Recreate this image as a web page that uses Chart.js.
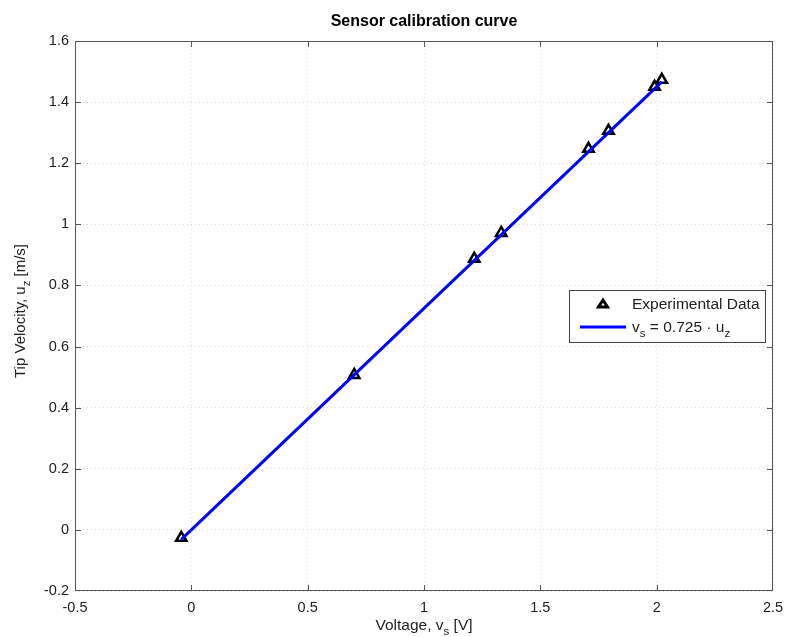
<!DOCTYPE html>
<html>
<head>
<meta charset="utf-8">
<script src="https://cdn.jsdelivr.net/npm/chart.js@4"></script>
<style>
  html, body { margin: 0; padding: 0; background: #fff; }
  #wrap { width: 786px; height: 637px; }
</style>
</head>
<body>
<div id="wrap"><canvas id="cal-chart" width="786" height="637"></canvas></div>
<script>
// measured points
const voltage = [-0.043, 0.70, 1.216, 1.332, 1.707, 1.793, 1.991, 2.022];
const velocity = [-0.026, 0.507, 0.887, 0.972, 1.247, 1.306, 1.450, 1.473];
// fitted line end points
const fitVoltage = [-0.043, 2.022];
const fitVelocity = [-0.031, 1.466];
const xTicks = [-0.5, 0, 0.5, 1, 1.5, 2, 2.5];
const yTicks = [-0.2, 0, 0.2, 0.4, 0.6, 0.8, 1, 1.2, 1.4, 1.6];

const FONT = "'Liberation Sans', Arial, sans-serif";

// text with a subscript piece, drawn left to right
function drawSub(ctx, parts, x, y, size) {
  let cx = x;
  parts.forEach(p => {
    const s = p.sub ? size * 0.75 : size;
    ctx.font = s + "px " + FONT;
    ctx.fillText(p.t, cx, y + (p.sub ? size * 0.35 : 0));
    cx += ctx.measureText(p.t).width;
  });
  return cx - x;
}
function subWidth(ctx, parts, size) {
  let w = 0;
  parts.forEach(p => {
    ctx.font = (p.sub ? size * 0.75 : size) + "px " + FONT;
    w += ctx.measureText(p.t).width;
  });
  return w;
}

const decor = {
  id: 'decor',
  afterDraw(chart) {
    const ctx = chart.ctx;
    const a = chart.chartArea;
    const xs = chart.scales.x, ys = chart.scales.y;
    ctx.save();
    // box
    ctx.strokeStyle = '#555';
    ctx.lineWidth = 1;
    ctx.strokeRect(a.left + 0.5, a.top + 0.5, a.right - a.left - 1, a.bottom - a.top - 1);
    // inward ticks (skip the ends, they sit on the box)
    ctx.beginPath();
    xTicks.slice(1, -1).forEach(v => {
      const px = Math.round(xs.getPixelForValue(v)) + 0.5;
      ctx.moveTo(px, a.bottom); ctx.lineTo(px, a.bottom - 6);
      ctx.moveTo(px, a.top); ctx.lineTo(px, a.top + 6);
    });
    yTicks.slice(1, -1).forEach(v => {
      const py = Math.round(ys.getPixelForValue(v)) + 0.5;
      ctx.moveTo(a.left, py); ctx.lineTo(a.left + 6, py);
      ctx.moveTo(a.right, py); ctx.lineTo(a.right - 6, py);
    });
    ctx.stroke();

    // title
    ctx.fillStyle = '#000';
    ctx.font = "bold 16px " + FONT;
    ctx.textAlign = 'center';
    ctx.textBaseline = 'alphabetic';
    ctx.fillText('Sensor calibration curve', (a.left + a.right) / 2, 26);

    // x label
    ctx.textAlign = 'left';
    ctx.fillStyle = '#222';
    const xl = [{t: 'Voltage, v'}, {t: 's', sub: true}, {t: ' [V]'}];
    const xw = subWidth(ctx, xl, 15.5);
    drawSub(ctx, xl, (a.left + a.right) / 2 - xw / 2, 630, 15.5);

    // y label
    ctx.save();
    ctx.translate(25, 311);
    ctx.rotate(-Math.PI / 2);
    const yl = [{t: 'Tip Velocity, u'}, {t: 'z', sub: true}, {t: ' [m/s]'}];
    const yw = subWidth(ctx, yl, 15);
    drawSub(ctx, yl, -yw / 2, 0, 15);
    ctx.restore();

    // legend
    const lx = 569, ly = 290, lw = 196, lh = 52;
    ctx.fillStyle = '#fff';
    ctx.fillRect(lx, ly, lw, lh);
    ctx.strokeStyle = '#444';
    ctx.lineWidth = 1;
    ctx.strokeRect(lx + 0.5, ly + 0.5, lw, lh);
    // triangle marker
    ctx.strokeStyle = '#000';
    ctx.lineWidth = 3;
    ctx.beginPath();
    ctx.moveTo(603, 300); ctx.lineTo(607.5, 307); ctx.lineTo(598.5, 307); ctx.closePath();
    ctx.stroke();
    // line sample
    ctx.strokeStyle = '#0000ff';
    ctx.lineWidth = 3;
    ctx.beginPath();
    ctx.moveTo(580, 327); ctx.lineTo(626, 327);
    ctx.stroke();
    ctx.fillStyle = '#222';
    ctx.font = "15.5px " + FONT;
    ctx.fillText('Experimental Data', 632, 309);
    drawSub(ctx, [{t: 'v'}, {t: 's', sub: true}, {t: ' = 0.725 \u00b7 u'}, {t: 'z', sub: true}], 632, 332, 15.5);
    ctx.restore();
  }
};

const ctx = document.getElementById('cal-chart').getContext('2d');
new Chart(ctx, {
  type: 'scatter',
  data: {
    datasets: [{
      label: 'v_s = 0.725 u_z',
      data: fitVoltage.map((v, i) => ({x: v, y: fitVelocity[i]})),
      showLine: true,
      borderColor: '#0000ff',
      borderWidth: 3,
      pointRadius: 0,
      order: 0
    }, {
      label: 'Experimental Data',
      data: voltage.map((v, i) => ({x: v, y: velocity[i]})),
      pointStyle: 'triangle',
      pointRadius: 6,
      borderColor: '#000',
      borderWidth: 2.5,
      backgroundColor: 'rgba(0,0,0,0)',
      order: 1
    }]
  },
  options: {
    responsive: false,
    animation: false,
    layout: { padding: { top: 41, right: 13, left: 0, bottom: 0 } },
    plugins: { legend: { display: false }, tooltip: { enabled: false } },
    scales: {
      x: {
        type: 'linear', min: -0.5, max: 2.5,
        afterBuildTicks: s => { s.ticks = xTicks.map(v => ({value: v})); },
        afterFit: s => { s.height = 46; s.paddingLeft = 0; s.paddingRight = 0; },
        grid: { color: '#dcdcdc', drawTicks: false, lineWidth: 1 },
        border: { display: false, dash: [1, 3] },
        ticks: { color: '#222', font: { family: FONT, size: 14.5 }, padding: 8,
                 callback: v => String(v) }
      },
      y: {
        type: 'linear', min: -0.2, max: 1.6,
        afterBuildTicks: s => { s.ticks = yTicks.map(v => ({value: v})); },
        afterFit: s => { s.width = 75; },
        grid: { color: '#dcdcdc', drawTicks: false, lineWidth: 1 },
        border: { display: false, dash: [1, 3] },
        ticks: { color: '#222', font: { family: FONT, size: 14.5 }, padding: 6,
                 callback: v => String(v) }
      }
    }
  },
  plugins: [decor]
});
</script>
</body>
</html>
